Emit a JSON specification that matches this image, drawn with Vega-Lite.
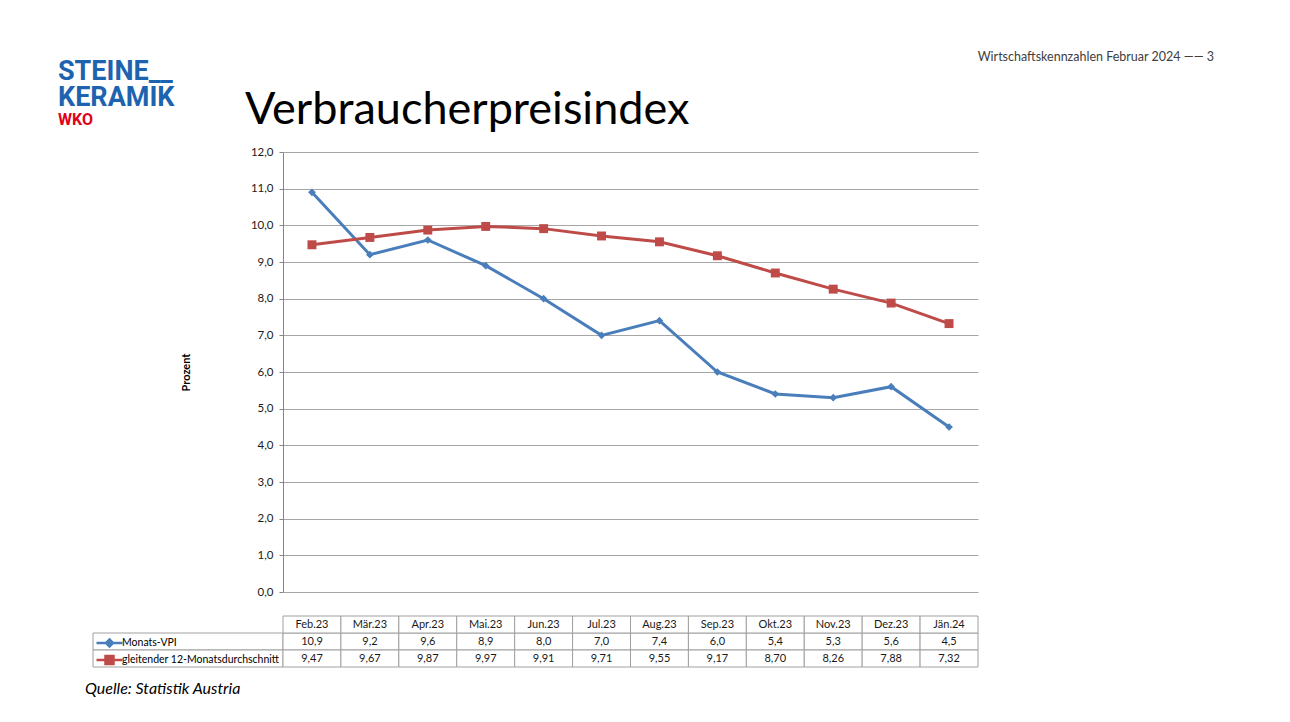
{
  "$schema": "https://vega.github.io/schema/vega-lite/v6.json",
  "background": "white",
  "padding": {"left": 58, "top": 50, "right": 10, "bottom": 10},
  "config": {
    "font": "Lato",
    "view": {"stroke": null},
    "locale": {"number": {"decimal": ",", "thousands": ".", "grouping": [3], "currency": ["", " €"]}}
  },
  "datasets": {
    "vpi": [
      {"Monat": "Feb.23", "Reihe": "Monats-VPI", "Wert": 10.9},
      {"Monat": "Mär.23", "Reihe": "Monats-VPI", "Wert": 9.2},
      {"Monat": "Apr.23", "Reihe": "Monats-VPI", "Wert": 9.6},
      {"Monat": "Mai.23", "Reihe": "Monats-VPI", "Wert": 8.9},
      {"Monat": "Jun.23", "Reihe": "Monats-VPI", "Wert": 8.0},
      {"Monat": "Jul.23", "Reihe": "Monats-VPI", "Wert": 7.0},
      {"Monat": "Aug.23", "Reihe": "Monats-VPI", "Wert": 7.4},
      {"Monat": "Sep.23", "Reihe": "Monats-VPI", "Wert": 6.0},
      {"Monat": "Okt.23", "Reihe": "Monats-VPI", "Wert": 5.4},
      {"Monat": "Nov.23", "Reihe": "Monats-VPI", "Wert": 5.3},
      {"Monat": "Dez.23", "Reihe": "Monats-VPI", "Wert": 5.6},
      {"Monat": "Jän.24", "Reihe": "Monats-VPI", "Wert": 4.5},
      {"Monat": "Feb.23", "Reihe": "gleitender 12-Monatsdurchschnitt", "Wert": 9.47},
      {"Monat": "Mär.23", "Reihe": "gleitender 12-Monatsdurchschnitt", "Wert": 9.67},
      {"Monat": "Apr.23", "Reihe": "gleitender 12-Monatsdurchschnitt", "Wert": 9.87},
      {"Monat": "Mai.23", "Reihe": "gleitender 12-Monatsdurchschnitt", "Wert": 9.97},
      {"Monat": "Jun.23", "Reihe": "gleitender 12-Monatsdurchschnitt", "Wert": 9.91},
      {"Monat": "Jul.23", "Reihe": "gleitender 12-Monatsdurchschnitt", "Wert": 9.71},
      {"Monat": "Aug.23", "Reihe": "gleitender 12-Monatsdurchschnitt", "Wert": 9.55},
      {"Monat": "Sep.23", "Reihe": "gleitender 12-Monatsdurchschnitt", "Wert": 9.17},
      {"Monat": "Okt.23", "Reihe": "gleitender 12-Monatsdurchschnitt", "Wert": 8.70},
      {"Monat": "Nov.23", "Reihe": "gleitender 12-Monatsdurchschnitt", "Wert": 8.26},
      {"Monat": "Dez.23", "Reihe": "gleitender 12-Monatsdurchschnitt", "Wert": 7.88},
      {"Monat": "Jän.24", "Reihe": "gleitender 12-Monatsdurchschnitt", "Wert": 7.32}
    ]
  },
  "title": {
    "text": "Verbraucherpreisindex",
    "anchor": "start",
    "frame": "group",
    "font": "Lato",
    "fontSize": 45,
    "fontWeight": "normal",
    "color": "black",
    "dx": 152,
    "dy": 104,
    "offset": 22
  },
  "bounds": "flush",
  "columns": 2,
  "spacing": {"row": 24, "column": 0},
  "concat": [
    {
      "width": 190,
      "height": 440,
      "data": {"values": []},
      "mark": "point",
      "title": {
        "text": ["STEINE__", "KERAMIK"],
        "subtitle": "WKO",
        "anchor": "start",
        "frame": "group",
        "font": "Roboto",
        "fontSize": 27,
        "fontWeight": "bold",
        "color": "#1E63B0",
        "lineHeight": 26,
        "subtitleFont": "Roboto",
        "subtitleFontSize": 16,
        "subtitleFontWeight": "bold",
        "subtitleColor": "#E2001A",
        "subtitlePadding": 0,
        "dx": -35,
        "offset": 23
      }
    },
    {
      "width": 695,
      "height": 440,
      "data": {"name": "vpi"},
      "title": {
        "text": "Wirtschaftskennzahlen Februar 2024  ——  3",
        "anchor": "end",
        "frame": "group",
        "font": "Lato",
        "fontSize": 12.5,
        "fontWeight": "normal",
        "color": "#404040",
        "dx": 236,
        "offset": 83
      },
      "encoding": {
        "x": {
          "field": "Monat",
          "type": "ordinal",
          "sort": ["Feb.23", "Mär.23", "Apr.23", "Mai.23", "Jun.23", "Jul.23", "Aug.23", "Sep.23", "Okt.23", "Nov.23", "Dez.23", "Jän.24"],
          "scale": {"type": "point", "padding": 0.5},
          "axis": null
        },
        "y": {
          "field": "Wert",
          "type": "quantitative",
          "scale": {"domain": [0, 12], "nice": false},
          "axis": {
            "values": [0, 1, 2, 3, 4, 5, 6, 7, 8, 9, 10, 11, 12],
            "format": ".1f",
            "title": "Prozent",
            "titleFont": "Lato",
            "titleFontWeight": "bold",
            "titleFontSize": 11,
            "titleColor": "black",
            "titlePadding": 59,
            "labelFont": "Lato",
            "labelFontSize": 11.5,
            "labelColor": "#1a1a1a",
            "labelPadding": 6,
            "tickSize": 4,
            "tickColor": "#868686",
            "domainColor": "#868686",
            "gridColor": "#A6A6A6",
            "grid": true
          }
        },
        "color": {
          "field": "Reihe",
          "type": "nominal",
          "scale": {
            "domain": ["Monats-VPI", "gleitender 12-Monatsdurchschnitt"],
            "range": ["#4A7EBB", "#BE4B48"]
          },
          "legend": {
            "orient": "none",
            "legendX": 10,
            "legendY": 484.5,
            "title": null,
            "direction": "vertical",
            "labelFont": "Lato",
            "labelFontSize": 10.5,
            "labelColor": "black",
            "labelOffset": 6,
            "labelLimit": 300,
            "symbolSize": 100,
            "rowPadding": -1,
            "encode": {
              "symbols": {
                "update": {
                  "shape": {"signal": "datum.value === 'Monats-VPI' ? 'M-2.6,0H2.6M0,-0.7L0.7,0L0,0.7L-0.7,0Z' : 'M-2.6,0H2.6M-0.8,-0.8H0.8V0.8H-0.8Z'"},
                  "fill": {"signal": "scale('color', datum.value)"},
                  "stroke": {"signal": "scale('color', datum.value)"},
                  "strokeWidth": {"value": 2.5},
                  "opacity": {"value": 1}
                }
              }
            }
          }
        }
      },
      "layer": [
        {"mark": {"type": "line", "strokeWidth": 3}},
        {
          "transform": [{"filter": "datum.Reihe === 'Monats-VPI'"}],
          "mark": {"type": "point", "shape": "diamond", "filled": true, "size": 60, "opacity": 1}
        },
        {
          "transform": [{"filter": "datum.Reihe !== 'Monats-VPI'"}],
          "mark": {"type": "point", "shape": "square", "filled": true, "size": 80, "opacity": 1}
        }
      ]
    },
    {
      "width": 190,
      "height": 51,
      "data": {"name": "vpi"},
      "transform": [{"filter": "datum.Monat === 'Feb.23'"}],
      "title": {
        "text": "Quelle: Statistik Austria",
        "orient": "bottom",
        "anchor": "start",
        "frame": "group",
        "font": "Lato",
        "fontSize": 16,
        "fontStyle": "italic",
        "fontWeight": "normal",
        "color": "black",
        "dx": -8,
        "offset": 13
      },
      "mark": {"type": "rect", "fill": "white", "stroke": "#A0A0A0", "strokeWidth": 1},
      "encoding": {
        "y": {
          "field": "Reihe",
          "type": "nominal",
          "scale": {"domain": ["Kopf", "Monats-VPI", "gleitender 12-Monatsdurchschnitt"], "paddingInner": 0, "paddingOuter": 0},
          "axis": null
        }
      }
    },
    {
      "width": 695,
      "height": 51,
      "data": {"name": "vpi"},
      "encoding": {
        "x": {
          "field": "Monat",
          "type": "ordinal",
          "sort": ["Feb.23", "Mär.23", "Apr.23", "Mai.23", "Jun.23", "Jul.23", "Aug.23", "Sep.23", "Okt.23", "Nov.23", "Dez.23", "Jän.24"],
          "scale": {"type": "band", "paddingInner": 0, "paddingOuter": 0},
          "axis": null
        }
      },
      "layer": [
        {
          "mark": {"type": "rect", "fill": "white", "stroke": "#A0A0A0", "strokeWidth": 1},
          "encoding": {
            "y": {
              "field": "Reihe",
              "type": "nominal",
              "scale": {"domain": ["Kopf", "Monats-VPI", "gleitender 12-Monatsdurchschnitt"], "paddingInner": 0, "paddingOuter": 0},
              "axis": null
            }
          }
        },
        {
          "transform": [{"filter": "datum.Reihe === 'Monats-VPI'"}],
          "mark": {"type": "rect", "fill": "white", "stroke": "#A0A0A0", "strokeWidth": 1},
          "encoding": {"y": {"datum": "Kopf", "type": "nominal"}}
        },
        {
          "transform": [{"filter": "datum.Reihe === 'Monats-VPI'"}],
          "mark": {"type": "text", "font": "Lato", "fontSize": 11, "color": "#1a1a1a"},
          "encoding": {"y": {"datum": "Kopf", "type": "nominal"}, "text": {"field": "Monat", "type": "nominal"}}
        },
        {
          "transform": [{"filter": "datum.Reihe === 'Monats-VPI'"}],
          "mark": {"type": "text", "font": "Lato", "fontSize": 11, "color": "#1a1a1a"},
          "encoding": {"y": {"field": "Reihe", "type": "nominal"}, "text": {"field": "Wert", "type": "quantitative", "format": ".1f"}}
        },
        {
          "transform": [{"filter": "datum.Reihe !== 'Monats-VPI'"}],
          "mark": {"type": "text", "font": "Lato", "fontSize": 11, "color": "#1a1a1a"},
          "encoding": {"y": {"field": "Reihe", "type": "nominal"}, "text": {"field": "Wert", "type": "quantitative", "format": ".2f"}}
        }
      ]
    }
  ]
}
